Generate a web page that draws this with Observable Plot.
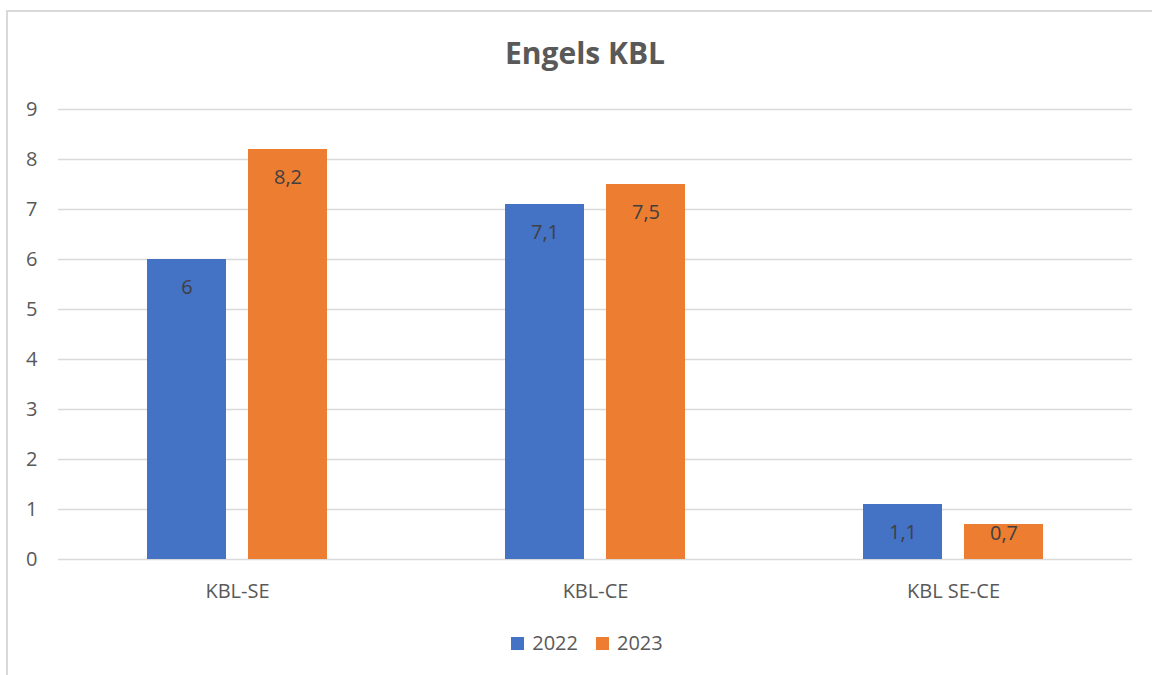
<!DOCTYPE html>
<html>
<head>
<meta charset="utf-8">
<script src="https://cdn.jsdelivr.net/npm/d3@7"></script>
<script src="https://cdn.jsdelivr.net/npm/@observablehq/plot@0.6"></script>
<style>
  html, body { margin: 0; padding: 0; background: #ffffff; overflow: hidden; width: 1152px; height: 675px; }
  #frame { position: absolute; left: 6px; top: 10px; width: 1200px; height: 700px; border-left: 2px solid #d9d9d9; border-top: 2px solid #d9d9d9; box-sizing: border-box; }
  #title { position: absolute; left: 0; width: 1170px; top: 33px; text-align: center; font-family: "Open Sans", sans-serif; font-weight: bold; font-size: 30px; color: #595959; line-height: 40px; }
  #chart { position: absolute; left: 0; top: 0; }
  #legend { position: absolute; left: 0; width: 1174px; top: 630px; display: flex; justify-content: center; align-items: center; font-family: "Open Sans", sans-serif; font-size: 20px; color: #595959; line-height: 26px; }
  .item { display: flex; align-items: center; margin: 0 9px; }
  .sw { width: 13px; height: 13px; margin-right: 8px; }
</style>
</head>
<body>
<div id="frame"></div>
<div id="chart"></div>
<div id="title">Engels KBL</div>
<div id="legend"></div>
<script>
const categories = ["KBL-SE", "KBL-CE", "KBL SE-CE"];
const years = ["2022", "2023"];
const values2022 = [6, 7.1, 1.1];
const values2023 = [8.2, 7.5, 0.7];
const yTicks = [0, 1, 2, 3, 4, 5, 6, 7, 8, 9];
const colors = ["#4472C4", "#ED7D31"];

const data = categories.flatMap((c, i) => [
  {category: c, year: years[0], value: values2022[i]},
  {category: c, year: years[1], value: values2023[i]}
]);

const fmt = v => String(v).replace(".", ",");

const chart = Plot.plot({
  width: 1152,
  height: 610,
  marginLeft: 57,
  marginRight: 20,
  marginTop: 109,
  marginBottom: 51,
  style: {fontFamily: "Open Sans, sans-serif", fontSize: "20px", color: "#595959", background: "transparent", overflow: "visible"},
  fx: {domain: categories, paddingInner: 0, paddingOuter: 0, label: null, axis: "bottom", tickSize: 0, tickPadding: 24},
  x: {domain: years, paddingInner: 0.2157, paddingOuter: 0.8645, axis: null},
  y: {domain: [0, 9], axis: null},
  color: {domain: years, range: colors},
  marks: [
    Plot.gridY(yTicks, {stroke: "#d9d9d9", strokeOpacity: 1, strokeWidth: 1.5}),
    Plot.axisY(yTicks, {tickSize: 0, tickPadding: 21, label: null, fill: "#595959", tickFormat: d => String(d)}),
    Plot.barY(data, {fx: "category", x: "year", y: "value", fill: "year"}),
    Plot.text(data, {
      fx: "category", x: "year",
      y: d => Math.max(d.value - 0.56, 0.52),
      text: d => fmt(d.value),
      fill: "#404040",
      lineAnchor: "middle",
      fontSize: 20
    })
  ]
});
document.getElementById("chart").appendChild(chart);

const legend = document.getElementById("legend");
years.forEach((y, i) => {
  const item = document.createElement("div");
  item.className = "item";
  const sw = document.createElement("div");
  sw.className = "sw";
  sw.style.background = colors[i];
  const t = document.createElement("span");
  t.textContent = y;
  item.appendChild(sw);
  item.appendChild(t);
  legend.appendChild(item);
});
</script>
</body>
</html>
